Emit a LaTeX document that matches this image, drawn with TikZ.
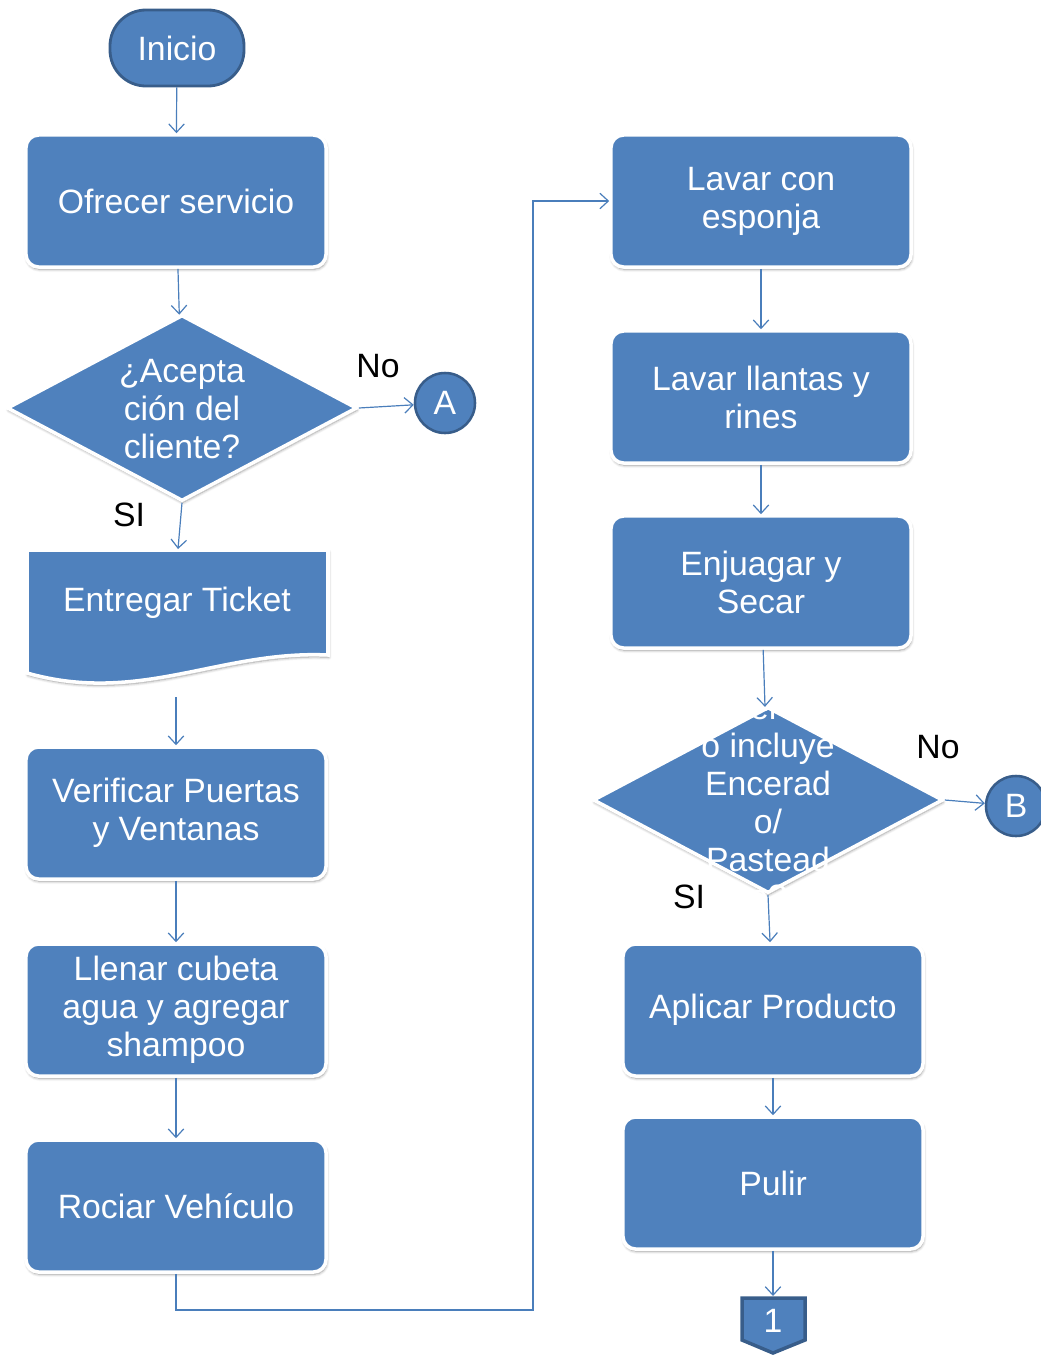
\documentclass[tikz,border=0pt]{standalone}
\usepackage{fontspec}
\setmainfont{Liberation Sans}
\usetikzlibrary{arrows.meta,shapes.geometric,shadows.blur}
\definecolor{boxblue}{HTML}{4F81BD}
\definecolor{edgeblue}{HTML}{385D8A}
\definecolor{lineblue}{HTML}{4A7EBB}
\tikzset{
  halo/.style = {draw=white, line width=2.5pt,
    blur shadow={shadow blur steps=6, shadow xshift=0.6pt,
      shadow yshift=-1.6pt, shadow opacity=40, shadow blur radius=2pt}},
  txt/.style = {align=center, text=white, inner sep=0pt,
    font=\fontsize{24}{27}\selectfont},
  proc/.style = {txt, halo, rectangle, rounded corners=9pt, fill=boxblue,
    minimum width=7.5cm, minimum height=3.3cm},% proceso
  decision/.style = {halo, diamond, fill=boxblue, inner sep=0pt,
    minimum width=8.75cm, minimum height=4.65cm},% rombo
  term/.style = {txt, rectangle, rounded corners=0.9cm, fill=boxblue,
    draw=edgeblue, line width=2pt, minimum width=3.35cm,
    minimum height=1.9cm},% inicio
  conn/.style = {txt, circle, fill=boxblue, draw=edgeblue, line width=1.8pt,
    minimum size=1.5cm},% conector
  answer/.style = {font=\fontsize{24}{27}\selectfont, text=black},
  flow/.style = {draw=lineblue, line width=0.85pt,
    -{Straight Barb[length=6pt,width=11pt]}}
}

\begin{document}
\begin{tikzpicture}[x=0.025cm, y=-0.025cm]
\useasboundingbox (0,0) rectangle (1040,1355);

% columna izquierda
\node [term] (inicio) at (177,48) {Inicio};
\node [proc] (ofrecer) at (176,201) {Ofrecer servicio};
\node [decision] (acepta) at (182,408) {};
\node [txt] (aceptatxt) at (182,409) {¿Acepta\\ción del\\cliente?};
\node [conn] (A) at (445,403) {A};
\node [answer] (no1) at (378,366) {No};
\node [answer] (si1) at (129,515) {SI};

\path [halo, fill=boxblue] (27,550) -- (328,550)
  -- (328,655) .. controls (220,650) and (140,705) .. (27,673) -- cycle;% documento
\node [txt] (ticket) at (177,603) {Entregar Ticket};
\coordinate (tickettop) at (178,549);
\coordinate (ticketbot) at (176,697);

\node [proc] (verificar) at (176,813) {Verificar Puertas\\y Ventanas};
\node [proc] (llenar) at (176,1010) {Llenar cubeta\\agua y agregar\\shampoo};
\node [proc] (rociar) at (176,1206) {Rociar Vehículo};
\coordinate (vuelta) at (533,1310);

% columna derecha
\node [proc] (esponja) at (761,201) {Lavar con\\esponja};
\node [proc] (llantas) at (761,397) {Lavar llantas y\\rines};
\node [proc] (enjuagar) at (761,582) {Enjuagar y\\Secar};
\node [decision] (encerado) at (768,800) {};
\node [txt] (enceradotxt) at (768,802)
  {¿Servici\\o incluye\\Encerad\\o/\\Pastead\\o?};
\node [conn] (B) at (1016,806) {B};
\node [answer] (no2) at (938,747) {No};
\node [answer] (si2) at (689,897) {SI};
\node [proc] (aplicar) at (773,1010) {Aplicar Producto};
\node [proc] (pulir) at (773,1183) {Pulir};

\draw [fill=boxblue, draw=edgeblue, line width=2.5pt] (742,1298) -- (805,1298)
  -- (805,1340) -- (773,1353) -- (742,1340) -- cycle;% fuera de pagina
\node [txt] (uno) at (773,1321) {1};

% flechas
\draw [flow] (inicio) -- (ofrecer);
\draw [flow] (ofrecer) -- (acepta);
\draw [flow] (acepta.east) -- (A);
\draw [flow] (acepta.south) -- (tickettop);
\draw [flow] (ticketbot) -- (verificar);
\draw [flow] (verificar) -- (llenar);
\draw [flow] (llenar) -- (rociar);
\draw [flow] (rociar.south) |- (vuelta) |- (esponja.west);
\draw [flow] (esponja) -- (llantas);
\draw [flow] (llantas) -- (enjuagar);
\draw [flow] (enjuagar) -- (encerado);
\draw [flow] (encerado.east) -- (B);
\draw [flow] (encerado.south) -- (aplicar);
\draw [flow] (aplicar) -- (pulir);
\draw [flow] (pulir) -- (773,1296);
\end{tikzpicture}
\end{document}
